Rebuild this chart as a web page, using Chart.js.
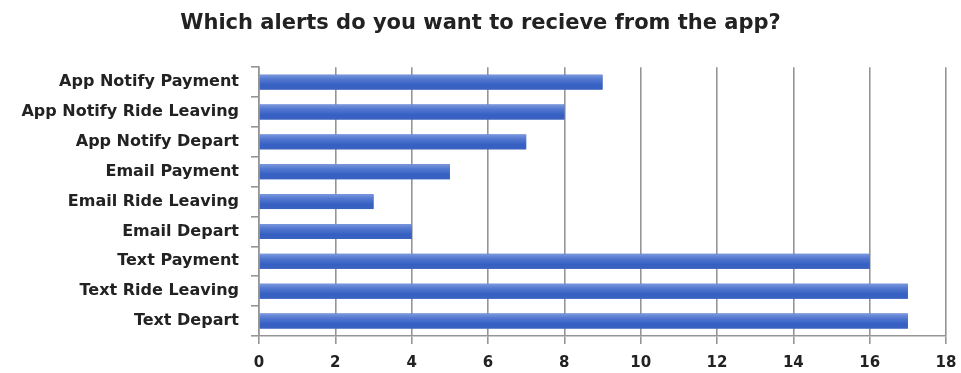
<!DOCTYPE html>
<html lang="en">
<head>
    <meta charset="UTF-8">
    <title>Alerts chart</title>
    <script src="https://cdn.jsdelivr.net/npm/chart.js"></script>
    <style>
        html, body {
            margin: 0;
            padding: 0;
            background: #fff;
        }
        .chart-container {
            width: 961px;
            height: 373px;
        }
    </style>
</head>
<body>

    <div class="chart-container">
        <canvas id="alertChart"></canvas>
    </div>

    <script>
        const categories = [
            "App Notify Payment",
            "App Notify Ride Leaving",
            "App Notify Depart",
            "Email Payment",
            "Email Ride Leaving",
            "Email Depart",
            "Text Payment",
            "Text Ride Leaving",
            "Text Depart"
        ];
        const responses = [9, 8, 7, 5, 3, 4, 16, 17, 17];
        const xTicks = [0, 2, 4, 6, 8, 10, 12, 14, 16, 18];

        const ctx = document.getElementById("alertChart").getContext("2d");

        // shade each bar after it is drawn: light band on top, darker band below
        const barShade = {
            id: "barShade",
            afterDatasetsDraw(chart) {
                const c = chart.ctx;
                chart.getDatasetMeta(0).data.forEach(bar => {
                    const p = bar.getProps(["x", "y", "base", "height"], true);
                    const top = p.y - p.height / 2;
                    const left = Math.min(p.x, p.base);
                    const w = Math.abs(p.x - p.base);
                    const g = c.createLinearGradient(0, top, 0, top + p.height);
                    g.addColorStop(0, "#7b98de");
                    g.addColorStop(0.3, "#5378d0");
                    g.addColorStop(0.7, "#3560c2");
                    g.addColorStop(1, "#3a62c0");
                    c.save();
                    c.fillStyle = g;
                    c.fillRect(left, top, w, p.height);
                    c.restore();
                });
            }
        };

        new Chart(ctx, {
            type: "bar",
            data: {
                labels: categories,
                datasets: [{
                    label: "Responses",
                    data: responses,
                    backgroundColor: "#4267c5",
                    borderWidth: 0,
                    barPercentage: 0.5,
                    categoryPercentage: 1
                }]
            },
            options: {
                indexAxis: "y",
                responsive: true,
                maintainAspectRatio: false,
                animation: false,
                layout: {
                    padding: { left: 0, right: 0, top: 0, bottom: 0 }
                },
                scales: {
                    x: {
                        min: 0,
                        max: 18,
                        afterBuildTicks: scale => {
                            scale.ticks = xTicks.map(v => ({ value: v }));
                        },
                        afterFit: scale => {
                            scale.height = 37;
                            scale.paddingRight = 15;
                        },
                        grid: {
                            color: "#959595",
                            lineWidth: 1.6,
                            tickLength: 8
                        },
                        border: { color: "#959595", width: 1.6 },
                        ticks: {
                            color: "#222",
                            padding: 10,
                            font: { family: "DejaVu Sans", size: 15, weight: "bold" }
                        }
                    },
                    y: {
                        afterFit: scale => { scale.width = 259; },
                        grid: {
                            offset: true,
                            drawOnChartArea: false,
                            color: "#959595",
                            lineWidth: 1.6,
                            tickLength: 8
                        },
                        border: { color: "#959595", width: 1.6 },
                        ticks: {
                            color: "#222",
                            padding: 12,
                            font: { family: "DejaVu Sans", size: 16, weight: "bold" }
                        }
                    }
                },
                plugins: {
                    legend: { display: false },
                    tooltip: { enabled: false },
                    title: {
                        display: true,
                        text: "Which alerts do you want to recieve from the app?",
                        color: "#222",
                        font: { family: "DejaVu Sans", size: 21, weight: "bold" },
                        padding: { top: 11, bottom: 31 }
                    }
                }
            },
            plugins: [barShade]
        });
    </script>

</body>
</html>
